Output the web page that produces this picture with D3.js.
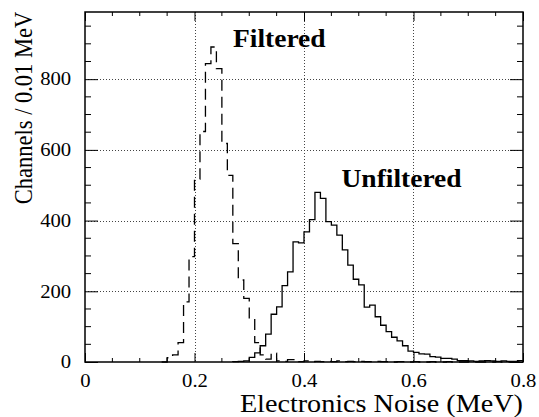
<!DOCTYPE html>
<html>
<head>
<meta charset="utf-8">
<script src="https://cdn.jsdelivr.net/npm/d3@7"></script>
<style>
  html, body { margin: 0; padding: 0; background: #fff; }
  svg { display: block; }
</style>
</head>
<body>
<svg id="chart" width="539" height="417"></svg>
<script>
// Histogram bin width (MeV)
const binWidth = 0.01;

// Filtered noise: counts per 0.01 MeV channel, first bin starts at filteredStart
const filteredStart = 0.14;
const filteredCounts = [
  0, 12, 20, 55, 170, 298, 517, 652, 844, 891,
  830, 618, 528, 335, 232, 180, 122, 55, 20, 8,
  25, 3, 2, 7, 7, 1, 3, 1, 2, 1,
  2, 1, 3, 1, 2, 1, 2, 1, 1, 2,
  1, 1, 0, 1, 1, 0, 1, 0, 0, 1,
  0, 0, 1, 0, 0, 0, 1, 0, 0, 0,
  0, 1, 0, 0, 0, 0
];

// Unfiltered noise: counts per 0.01 MeV channel, first bin starts at unfilteredStart
const unfilteredStart = 0.27;
const unfilteredCounts = [
  1, 2, 3, 13, 26, 46, 79, 135, 156, 216,
  255, 340, 337, 368, 403, 480, 463, 397, 387, 359,
  317, 274, 234, 218, 155, 161, 128, 104, 86, 70,
  60, 46, 31, 27, 23, 22, 15, 14, 10, 10,
  8, 4, 4, 3, 2, 3, 4, 3, 2, 3,
  2, 2, 4
];

// Axis ranges and ticks
const xDomain = [0, 0.8];
const yDomain = [0, 990];
const xMajorTicks = [0, 0.2, 0.4, 0.6, 0.8];
const xTickLabels = ["0", "0.2", "0.4", "0.6", "0.8"];
const yMajorTicks = [0, 200, 400, 600, 800];
const yTickLabels = ["0", "200", "400", "600", "800"];
const xMinorStep = 0.05;
const yMinorStep = 50;

// Text
const xTitle = "Electronics Noise (MeV)";
const yTitle = "Channels / 0.01 MeV";
const filteredLabel = "Filtered";
const unfilteredLabel = "Unfiltered";

// Frame geometry and type
const frame = { left: 85, right: 523, top: 12, bottom: 362 };
const serif = "'Liberation Serif', 'Times New Roman', Times, serif";
const textStretch = 1.15;

const svg = d3.select("#chart");

const x = d3.scaleLinear().domain(xDomain).range([frame.left, frame.right]);
const y = d3.scaleLinear().domain(yDomain).range([frame.bottom, frame.top]);

const xMinor = d3.range(xDomain[0], xDomain[1] + 1e-9, xMinorStep).map(v => +v.toFixed(3))
  .filter(v => !xMajorTicks.some(m => Math.abs(m - v) < 1e-9));
const yMinor = d3.range(yDomain[0], yDomain[1] + 1e-9, yMinorStep)
  .filter(v => !yMajorTicks.includes(v));

// Dotted grid at the major ticks
const grid = svg.append("g").attr("stroke", "#444").attr("stroke-width", 1)
  .attr("stroke-dasharray", "1,2").attr("fill", "none");
grid.selectAll("line.gx").data(xMajorTicks.filter(v => v > xDomain[0] && v < xDomain[1]))
  .join("line").attr("class", "gx")
  .attr("x1", d => Math.round(x(d)) + 0.5).attr("x2", d => Math.round(x(d)) + 0.5)
  .attr("y1", frame.top).attr("y2", frame.bottom);
grid.selectAll("line.gy").data(yMajorTicks.filter(v => v > yDomain[0] && v < yDomain[1]))
  .join("line").attr("class", "gy")
  .attr("y1", d => Math.round(y(d)) + 0.5).attr("y2", d => Math.round(y(d)) + 0.5)
  .attr("x1", frame.left).attr("x2", frame.right);

// Step outline of a histogram
function histPoints(start, counts) {
  const pts = [[start, 0]];
  counts.forEach((c, i) => pts.push([start + i * binWidth, c]));
  const end = start + counts.length * binWidth;
  pts.push([end, counts[counts.length - 1]]);
  pts.push([end, 0]);
  return pts;
}
const step = d3.line().x(d => x(d[0])).y(d => y(d[1])).curve(d3.curveStepAfter);

svg.append("path")
  .attr("d", step(histPoints(filteredStart, filteredCounts)))
  .attr("fill", "none").attr("stroke", "#000").attr("stroke-width", 1.3)
  .attr("stroke-dasharray", "11,6");

svg.append("path")
  .attr("d", step(histPoints(unfilteredStart, unfilteredCounts)))
  .attr("fill", "none").attr("stroke", "#000").attr("stroke-width", 1.3);

// Axes: ticks point inward and are mirrored on the top and right sides
const xMajorLen = 9, xMinorLen = 4, yMajorLen = 13, yMinorLen = 6;

const axBottom = svg.append("g").attr("transform", `translate(0,${frame.bottom})`)
  .call(d3.axisBottom(x).tickValues(xMajorTicks).tickSize(-xMajorLen).tickPadding(xMajorLen + 3)
    .tickFormat((d, i) => xTickLabels[i]));
axBottom.append("g").selectAll("line").data(xMinor).join("line")
  .attr("x1", d => x(d)).attr("x2", d => x(d)).attr("y1", 0).attr("y2", -xMinorLen);

const axTop = svg.append("g").attr("transform", `translate(0,${frame.top})`)
  .call(d3.axisTop(x).tickValues(xMajorTicks).tickSize(-xMajorLen).tickFormat(""));
axTop.append("g").selectAll("line").data(xMinor).join("line")
  .attr("x1", d => x(d)).attr("x2", d => x(d)).attr("y1", 0).attr("y2", xMinorLen);

const axLeft = svg.append("g").attr("transform", `translate(${frame.left},0)`)
  .call(d3.axisLeft(y).tickValues(yMajorTicks).tickSize(-yMajorLen).tickPadding(12)
    .tickFormat((d, i) => yTickLabels[i]));
axLeft.append("g").selectAll("line").data(yMinor).join("line")
  .attr("y1", d => y(d)).attr("y2", d => y(d)).attr("x1", 0).attr("x2", yMinorLen);

const axRight = svg.append("g").attr("transform", `translate(${frame.right},0)`)
  .call(d3.axisRight(y).tickValues(yMajorTicks).tickSize(-yMajorLen).tickFormat(""));
axRight.append("g").selectAll("line").data(yMinor).join("line")
  .attr("y1", d => y(d)).attr("y2", d => y(d)).attr("x1", 0).attr("x2", -yMinorLen);

[axBottom, axTop, axLeft, axRight].forEach(g => {
  g.attr("font-family", serif);
  g.select(".domain").remove();
  g.selectAll("line").attr("stroke", "#000").attr("stroke-width", 1);
});

svg.append("rect")
  .attr("x", frame.left).attr("y", frame.top)
  .attr("width", frame.right - frame.left).attr("height", frame.bottom - frame.top)
  .attr("fill", "none").attr("stroke", "#000").attr("stroke-width", 1.5);

// Tick labels (serif, slightly wide)
[axBottom, axLeft].forEach(g => g.selectAll(".tick text")
  .attr("font-family", serif).attr("font-size", 18).attr("fill", "#000")
  .attr("transform", `scale(${textStretch},1)`));

// Axis titles
svg.append("text")
  .attr("transform", `translate(${frame.right},412) scale(${textStretch},1)`)
  .attr("font-family", serif).attr("text-anchor", "end").attr("font-size", 24.5).text(xTitle);

svg.append("text")
  .attr("transform", `translate(32,108) scale(1.08,1) rotate(-90)`)
  .attr("font-family", serif).attr("text-anchor", "middle").attr("font-size", 22.5).text(yTitle);

// Series labels
svg.append("text")
  .attr("transform", `translate(233,46.5) scale(1.1,1)`)
  .attr("font-family", serif).attr("font-weight", "bold").attr("font-size", 25).text(filteredLabel);
svg.append("text")
  .attr("transform", `translate(341.5,186.5) scale(1.1,1)`)
  .attr("font-family", serif).attr("font-weight", "bold").attr("font-size", 25).text(unfilteredLabel);
</script>
</body>
</html>
